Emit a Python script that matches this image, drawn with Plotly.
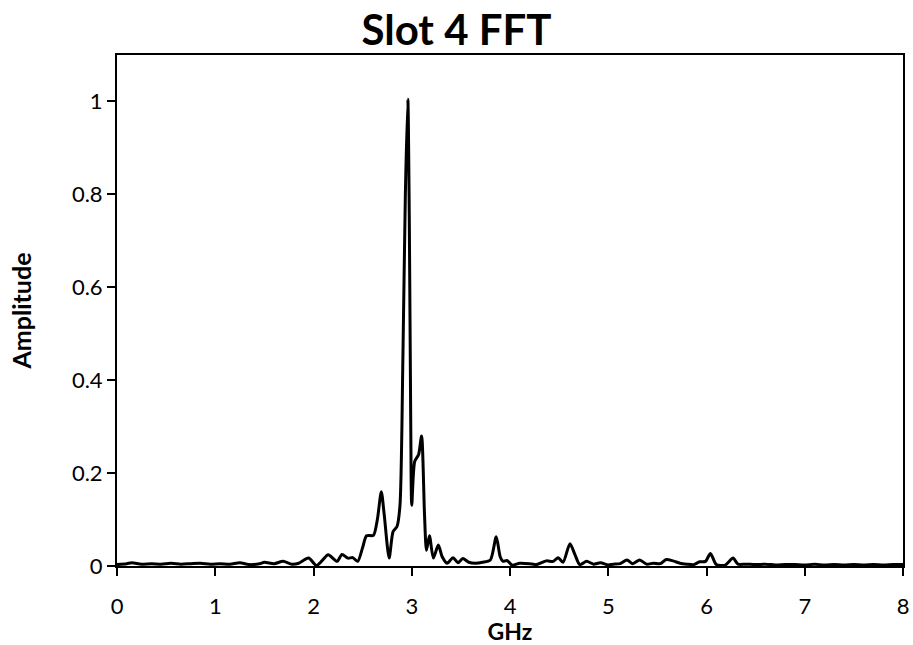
import plotly.graph_objects as go

freq_ghz = [0.0, 0.1, 0.15, 0.25, 0.35, 0.45, 0.55, 0.65, 0.75, 0.85, 0.95, 1.05, 1.15,
            1.25, 1.35, 1.45, 1.5, 1.6, 1.69, 1.78, 1.85, 1.95, 2.03, 2.09, 2.15, 2.24,
            2.29, 2.35, 2.40, 2.45, 2.50, 2.54, 2.61, 2.65, 2.69, 2.72, 2.77, 2.81, 2.85,
            2.88, 2.91, 2.935, 2.96, 2.975, 2.99, 3.0, 3.03, 3.07, 3.10, 3.13, 3.15, 3.18,
            3.22, 3.27, 3.31, 3.36, 3.42, 3.47, 3.52, 3.58, 3.65, 3.72, 3.80, 3.86, 3.90,
            3.93, 3.97, 4.02, 4.10, 4.2, 4.27, 4.37, 4.44, 4.49, 4.54, 4.61, 4.66, 4.71,
            4.78, 4.85, 4.92, 5.0, 5.05, 5.12, 5.19, 5.25, 5.32, 5.39, 5.46, 5.53, 5.59,
            5.66, 5.73, 5.8, 5.87, 5.93, 5.99, 6.04, 6.10, 6.19, 6.27, 6.32, 6.4, 6.5,
            6.6, 6.7, 6.8, 6.9, 7.0, 7.1, 7.2, 7.3, 7.4, 7.5, 7.6, 7.7, 7.8, 7.9, 8.0]

amplitude = [0.003, 0.005, 0.007, 0.004, 0.005, 0.004, 0.006, 0.004, 0.005, 0.006, 0.004,
             0.005, 0.004, 0.007, 0.003, 0.005, 0.008, 0.005, 0.010, 0.004, 0.006, 0.017,
             0.001, 0.012, 0.024, 0.010, 0.025, 0.017, 0.018, 0.010, 0.040, 0.065, 0.066,
             0.100, 0.160, 0.110, 0.017, 0.074, 0.085, 0.130, 0.450, 0.800, 1.005, 0.750,
             0.300, 0.131, 0.225, 0.240, 0.280, 0.110, 0.034, 0.065, 0.017, 0.045, 0.020,
             0.006, 0.018, 0.007, 0.016, 0.008, 0.006, 0.008, 0.013, 0.063, 0.020, 0.010,
             0.012, 0.002, 0.006, 0.005, 0.003, 0.011, 0.010, 0.018, 0.008, 0.048, 0.025,
             0.003, 0.010, 0.004, 0.007, 0.002, 0.004, 0.005, 0.013, 0.005, 0.013, 0.004,
             0.006, 0.005, 0.014, 0.011, 0.006, 0.004, 0.003, 0.009, 0.010, 0.027, 0.003,
             0.002, 0.017, 0.004, 0.004, 0.003, 0.004, 0.002, 0.003, 0.003, 0.002, 0.004,
             0.002, 0.003, 0.002, 0.003, 0.002, 0.003, 0.002, 0.003, 0.003]

x_ticks = [0, 1, 2, 3, 4, 5, 6, 7, 8]
y_ticks = [0, 0.2, 0.4, 0.6, 0.8, 1]
y_tick_labels = ["0", "0.2", "0.4", "0.6", "0.8", "1"]

FONT = "Lato, 'Open Sans', sans-serif"

fig = go.Figure()
fig.add_trace(go.Scatter(
    x=freq_ghz, y=amplitude, mode="lines",
    line=dict(color="black", width=3, shape="spline", smoothing=0.7),
    showlegend=False,
))

fig.update_layout(
    width=913, height=645,
    margin=dict(l=117, r=10, t=55, b=79),
    paper_bgcolor="white", plot_bgcolor="white",
    font=dict(family=FONT, color="black", size=22),
    title=dict(text="<b>Slot 4 FFT</b>", x=0.5, xanchor="center",
               y=0.9535, yanchor="middle", yref="container",
               font=dict(family=FONT, size=42, color="black")),
)

fig.update_xaxes(
    range=[0, 8], tickvals=x_ticks, ticktext=[str(v) for v in x_ticks],
    showgrid=False, zeroline=False, automargin=False,
    showline=True, linecolor="black", linewidth=2, mirror=True,
    ticks="outside", ticklen=8, tickwidth=1.5, tickcolor="black",
    tickfont=dict(size=22), ticklabelstandoff=12,
    title=dict(text="<b>GHz</b>", font=dict(size=23), standoff=5),
)
fig.update_yaxes(
    range=[0, 1.1], tickvals=y_ticks, ticktext=y_tick_labels,
    showgrid=False, zeroline=False, automargin=False,
    showline=True, linecolor="black", linewidth=2, mirror=True,
    ticks="outside", ticklen=8, tickwidth=1.5, tickcolor="black",
    tickfont=dict(size=22), ticklabelstandoff=0,
    title=dict(text="<b>Amplitude</b>", font=dict(size=25), standoff=33),
)

fig.write_html(
    "out.html",
    config={"displayModeBar": False},
    post_script="document.body.style.margin='0';document.body.style.overflow='hidden';",
)
